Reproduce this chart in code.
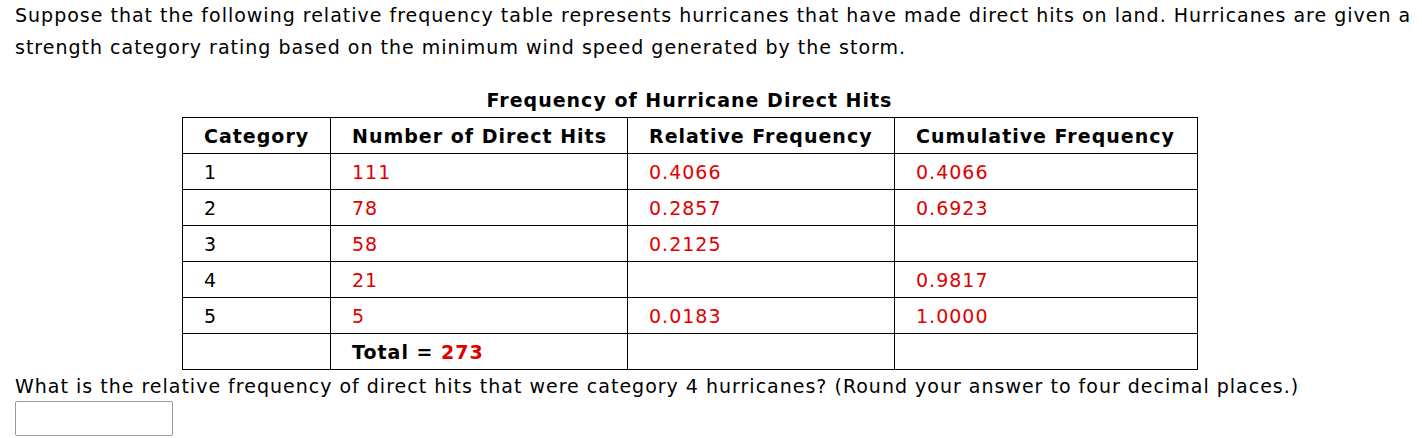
<!DOCTYPE html>
<html><head><meta charset="utf-8">
<script src="https://cdn.jsdelivr.net/npm/chart.js@4"></script>
<style>
body{margin:0;width:1422px;height:438px;overflow:hidden;background:#fff;font-family:"DejaVu Sans",Verdana,sans-serif;font-size:19px;letter-spacing:1px;color:#000;}
#intro{position:absolute;left:15px;top:-1px;line-height:32px;white-space:nowrap;}
#title{position:absolute;left:182px;width:1015px;top:89px;text-align:center;font-weight:bold;}
table{position:absolute;left:182px;top:117px;border-collapse:collapse;table-layout:fixed;}
td,th{border:1px solid #000;height:35px;padding:0 0 0 21px;text-align:left;white-space:nowrap;}
th{font-weight:bold;}
.r{color:#e00000;}
#q{position:absolute;left:15px;top:375px;white-space:nowrap;}
#box{position:absolute;left:15px;top:401px;width:156px;height:33px;border:1px solid #999;border-radius:2px;}
</style></head><body>
<div id="intro">Suppose that the following relative frequency table represents hurricanes that have made direct hits on land. Hurricanes are given a<br>strength category rating based on the minimum wind speed generated by the storm.</div>
<div id="title"></div>
<table id="t"></table>
<div id="q">What is the relative frequency of direct hits that were category 4 hurricanes? (Round your answer to four decimal places.)</div>
<div id="box"></div>
<script>
const title="Frequency of Hurricane Direct Hits";
const headers=["Category","Number of Direct Hits","Relative Frequency","Cumulative Frequency"];
const categories=["1","2","3","4","5"];
const hits=["111","78","58","21","5"];
const relFreq=["0.4066","0.2857","0.2125","","0.0183"];
const cumFreq=["0.4066","0.6923","","0.9817","1.0000"];
const total="273";
const widths=[148,297,267,303];
document.getElementById('title').textContent=title;
let h='<tr>'+headers.map((x,i)=>`<th style="width:${widths[i]-22}px">${x}</th>`).join('')+'</tr>';
categories.forEach((c,i)=>{h+=`<tr><td>${c}</td><td class="r">${hits[i]}</td><td class="r">${relFreq[i]}</td><td class="r">${cumFreq[i]}</td></tr>`;});
h+=`<tr><td></td><td><b>Total = <span class="r">${total}</span></b></td><td></td><td></td></tr>`;
document.getElementById('t').innerHTML=h;
</script>
</body></html>
